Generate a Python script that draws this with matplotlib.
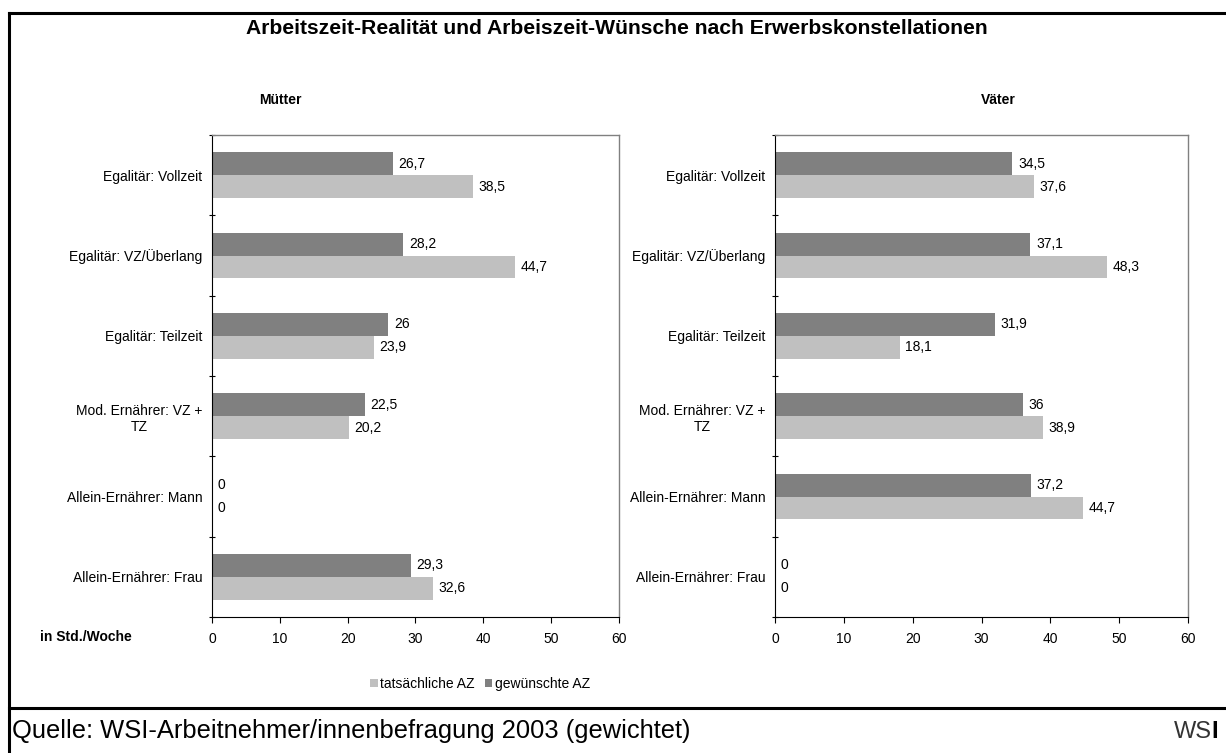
import matplotlib
matplotlib.use("Agg")
import matplotlib.pyplot as plt
from matplotlib.patches import Patch
from matplotlib.lines import Line2D
import numpy as np

plt.rcParams['font.family'] = ['Liberation Sans', 'DejaVu Sans']

categories = ["Egalitär: Vollzeit", "Egalitär: VZ/Überlang", "Egalitär: Teilzeit",
              "Mod. Ernährer: VZ +\nTZ", "Allein-Ernährer: Mann", "Allein-Ernährer: Frau"]
mothers_actual = [38.5, 44.7, 23.9, 20.2, 0, 32.6]
mothers_desired = [26.7, 28.2, 26, 22.5, 0, 29.3]
fathers_actual = [37.6, 48.3, 18.1, 38.9, 44.7, 0]
fathers_desired = [34.5, 37.1, 31.9, 36, 37.2, 0]
series_names = ["tatsächliche AZ", "gewünschte AZ"]
x_ticks = [0, 10, 20, 30, 40, 50, 60]

C_ACT = "#c0c0c0"
C_DES = "#808080"
FS = 10

W, H = 1226, 753
fig = plt.figure(figsize=(W / 100, H / 100), dpi=100)

def px_axes(x0, y0, x1, y1):
    return fig.add_axes([x0 / W, 1 - y1 / H, (x1 - x0) / W, (y1 - y0) / H])

def fmt(v):
    return f"{v:g}".replace(".", ",")

def draw_panel(ax, actual, desired, title, title_x):
    n = len(categories)
    y = np.arange(n)
    h = 0.285
    ax.barh(y - h / 2, desired, height=h, color=C_DES, linewidth=0)
    ax.barh(y + h / 2, actual, height=h, color=C_ACT, linewidth=0)
    for yi, v in zip(y - h / 2, desired):
        ax.annotate(fmt(v), (v, yi), xytext=(4, 0), textcoords="offset points",
                    va="center", ha="left", fontsize=FS)
    for yi, v in zip(y + h / 2, actual):
        ax.annotate(fmt(v), (v, yi), xytext=(4, 0), textcoords="offset points",
                    va="center", ha="left", fontsize=FS)
    ax.set_xlim(0, 60)
    ax.set_ylim(n - 0.5, -0.5)
    ax.set_xticks(x_ticks)
    ax.set_xticklabels([str(t) for t in x_ticks], fontsize=FS)
    ax.set_yticks(y)
    ax.set_yticklabels(categories, fontsize=FS, multialignment="center")
    ax.set_yticks(np.arange(n + 1) - 0.5, minor=True)
    ax.tick_params(axis="y", which="major", length=0, pad=7)
    ax.tick_params(axis="y", which="minor", length=5, direction="inout", width=0.8)
    ax.tick_params(axis="x", which="major", length=4, direction="out", width=0.8, pad=7)
    for s in ("top", "right"):
        ax.spines[s].set_color("#808080")
        ax.spines[s].set_linewidth(1.0)
    for s in ("left", "bottom"):
        ax.spines[s].set_color("black")
        ax.spines[s].set_linewidth(0.8)
    fig.text(title_x / W, 1 - 100 / H, title, ha="center", va="center",
             fontsize=10, fontweight="bold")

ax1 = px_axes(212, 135, 619, 617)
draw_panel(ax1, mothers_actual, mothers_desired, "Mütter", 280)
ax2 = px_axes(775, 135, 1188, 617)
draw_panel(ax2, fathers_actual, fathers_desired, "Väter", 998)

fig.text(617 / W, 1 - 28 / H, "Arbeitszeit-Realität und Arbeiszeit-Wünsche nach Erwerbskonstellationen",
         ha="center", va="center", fontsize=15.2, fontweight="bold")
fig.text(40 / W, 1 - 637 / H, "in Std./Woche", ha="left", va="center",
         fontsize=10, fontweight="bold")

handles = [Patch(facecolor=C_ACT, edgecolor="none"), Patch(facecolor=C_DES, edgecolor="none")]
fig.legend(handles, series_names, loc="center", bbox_to_anchor=(480 / W, 1 - 684 / H),
           ncol=2, frameon=False, fontsize=FS, handlelength=0.55, handleheight=0.55,
           handletextpad=0.2, columnspacing=0.7)

# frame lines
fig.add_artist(Line2D([9 / W, 1], [1 - 13 / H, 1 - 13 / H], color="black", linewidth=2.2))
fig.add_artist(Line2D([9 / W, 9 / W], [0, 1 - 13 / H], color="black", linewidth=2.2))
fig.add_artist(Line2D([9 / W, 1], [1 - 708 / H, 1 - 708 / H], color="black", linewidth=2.2))

fig.text(12 / W, 1 - 731 / H, "Quelle: WSI-Arbeitnehmer/innenbefragung 2003 (gewichtet)",
         ha="left", va="center", fontsize=18.4)
fig.text(1174 / W, 1 - 732 / H, "WS", ha="left", va="center", fontsize=17,
         color="#333333", fontweight="light")
fig.text(1211 / W, 1 - 732 / H, "I", ha="left", va="center", fontsize=17,
         color="black", fontweight="bold")

fig.savefig("out.png", dpi=100)
